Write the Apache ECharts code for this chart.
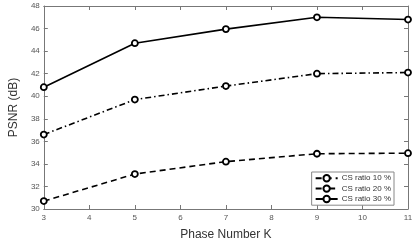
<!DOCTYPE html>
<html><head><meta charset="utf-8">
<script src="https://cdn.jsdelivr.net/npm/echarts@6/dist/echarts.min.js"></script>
<style>html,body{margin:0;padding:0;background:#fff}#c{width:416px;height:246px}</style>
</head><body><div id="c"></div>
<script>
const phaseK = [3, 5, 7, 9, 11];
const cs10 = [30.7, 33.1, 34.2, 34.9, 34.95];
const cs20 = [36.6, 39.7, 40.9, 42.0, 42.1];
const cs30 = [40.8, 44.7, 45.95, 47.0, 46.8];
const names = ['CS ratio 10 %', 'CS ratio 20 %', 'CS ratio 30 %'];
const styles = [[6,4], [6,3,1.5,3], 'solid'];
const vals = [cs10, cs20, cs30];

const series = vals.map((v, i) => ({
  name: names[i], type: 'line',
  data: phaseK.map((k, j) => [k, v[j]]),
  symbol: 'circle', symbolSize: 6,
  lineStyle: {color: '#000', width: 1.6, type: styles[i]},
  itemStyle: {color: '#fff', borderColor: '#000', borderWidth: 1.8},
  emphasis: {disabled: true}, animation: false
}));

const axCommon = {
  axisLine: {show: true, lineStyle: {color: '#777', width: 1}},
  axisTick: {show: true, inside: true, length: 4, lineStyle: {color: '#777'}},
  splitLine: {show: false}
};
const chart = echarts.init(document.getElementById('c'));
chart.setOption({
  animation: false,
  grid: {left: 32, right: 8, top: 6, bottom: 31, containLabel: false},
  xAxis: [
    Object.assign({type: 'value', min: 3, max: 11, interval: 1, position: 'bottom',
      name: 'Phase Number K', nameLocation: 'middle', nameGap: 20,
      nameTextStyle: {fontSize: 12, color: '#333', fontFamily: 'Liberation Sans'},
      axisLabel: {fontSize: 8, color: '#555', margin: 5, fontFamily: 'Liberation Sans'}}, axCommon),
    Object.assign({type: 'value', min: 3, max: 11, interval: 1, position: 'top',
      axisLabel: {show: false}}, axCommon)
  ],
  yAxis: [
    Object.assign({type: 'value', min: 30, max: 48, interval: 2, position: 'left',
      name: 'PSNR (dB)', nameLocation: 'middle', nameGap: 20,
      nameTextStyle: {fontSize: 12, color: '#333', fontFamily: 'Liberation Sans'},
      axisLabel: {fontSize: 8, color: '#555', margin: 4, fontFamily: 'Liberation Sans'}}, axCommon),
    Object.assign({type: 'value', min: 30, max: 48, interval: 2, position: 'right',
      axisLabel: {show: false}}, axCommon)
  ],
  legend: {
    data: names, orient: 'vertical', right: 22, top: 172,
    backgroundColor: '#fff', borderColor: '#888', borderWidth: 1, borderRadius: 0,
    padding: [2, 3, 2, 3], itemGap: 2, itemWidth: 22, itemHeight: 8,
    textStyle: {fontSize: 8, color: '#333', fontFamily: 'Liberation Sans', padding: [0,0,0,-1]}
  },
  series: series
});
</script></body></html>
